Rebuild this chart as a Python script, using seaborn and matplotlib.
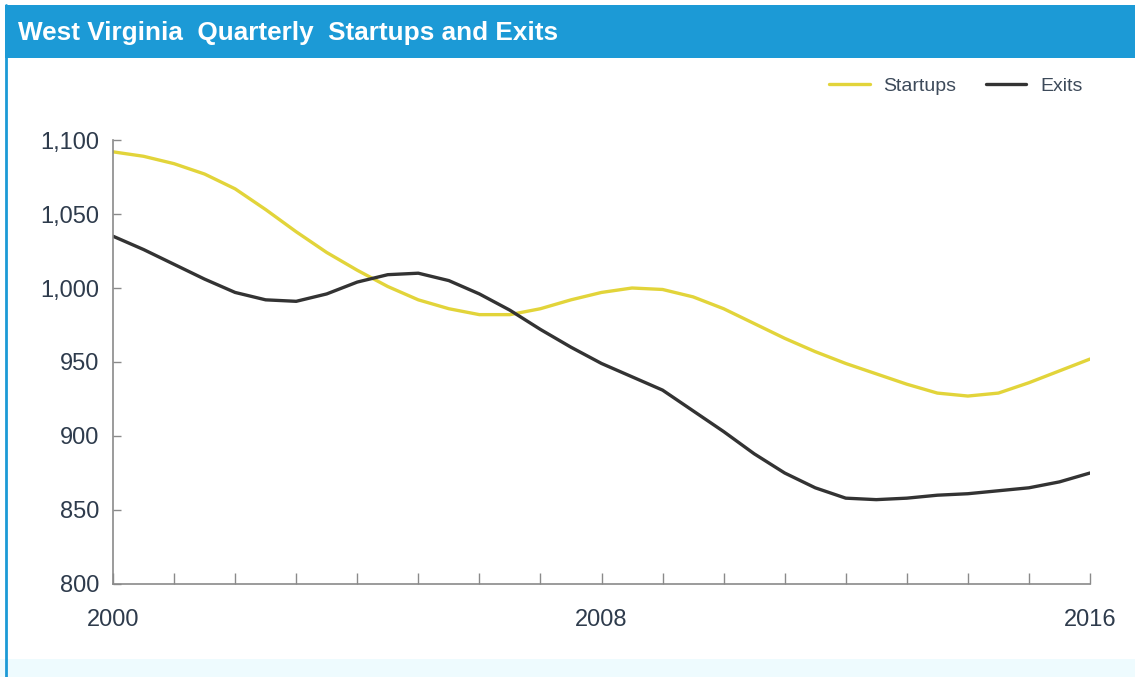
import matplotlib.pyplot as plt
import pandas as pd
import seaborn as sns
from matplotlib.lines import Line2D
from matplotlib.patches import Rectangle

# half-year points
years = [2000.0, 2000.5, 2001.0, 2001.5, 2002.0, 2002.5, 2003.0, 2003.5,
         2004.0, 2004.5, 2005.0, 2005.5, 2006.0, 2006.5, 2007.0, 2007.5,
         2008.0, 2008.5, 2009.0, 2009.5, 2010.0, 2010.5, 2011.0, 2011.5,
         2012.0, 2012.5, 2013.0, 2013.5, 2014.0, 2014.5, 2015.0, 2015.5,
         2016.0]
startups = [1092, 1089, 1084, 1077, 1067, 1053, 1038, 1024,
            1012, 1001, 992, 986, 982, 982, 986, 992,
            997, 1000, 999, 994, 986, 976, 966, 957,
            949, 942, 935, 929, 927, 929, 936, 944,
            952]
exits = [1035, 1026, 1016, 1006, 997, 992, 991, 996,
         1004, 1009, 1010, 1005, 996, 985, 972, 960,
         949, 940, 931, 917, 903, 888, 875, 865,
         858, 857, 858, 860, 861, 863, 865, 869,
         875]

series_names = ["Startups", "Exits"]
series_colors = ["#e2d43a", "#333333"]
x_labels = {2000: "2000", 2008: "2008", 2016: "2016"}
y_ticks = [800, 850, 900, 950, 1000, 1050, 1100]

df = pd.concat([
    pd.DataFrame({"year": years, "value": startups, "series": "Startups"}),
    pd.DataFrame({"year": years, "value": exits, "series": "Exits"}),
])

sns.set_style("white")
plt.rcParams["font.family"] = ["Liberation Sans", "DejaVu Sans"]

text_color = "#2e3b4c"
blue = "#1c9ad6"
fig = plt.figure(figsize=(11.35, 6.77), dpi=100)

# frame: pale bottom band, left border, title bar
fig.patches.append(Rectangle((0, 0), 1, 18 / 677, transform=fig.transFigure,
                             facecolor="#eefbfe", edgecolor="none"))
fig.lines.append(Line2D([6 / 1135, 6 / 1135], [0, 1 - 5 / 677],
                        transform=fig.transFigure, color=blue, linewidth=2))
fig.patches.append(Rectangle((5 / 1135, 1 - 58 / 677), 1, 53 / 677,
                             transform=fig.transFigure,
                             facecolor=blue, edgecolor="none"))
fig.text(18 / 1135, 1 - 33 / 677, "West Virginia  Quarterly  Startups and Exits",
         color="white", fontsize=18.8, fontweight="bold", va="center", ha="left")

ax = fig.add_axes([113 / 1135, 1 - 584 / 677, 977 / 1135, 444 / 677])
sns.lineplot(data=df, x="year", y="value", hue="series",
             palette=dict(zip(series_names, series_colors)),
             linewidth=2.4, ax=ax, legend=False)

ax.set_xlim(2000, 2016)
ax.set_ylim(800, 1100)
ax.set_xlabel("")
ax.set_ylabel("")

ax.set_yticks(y_ticks)
ax.set_yticklabels([f"{v:,}" for v in y_ticks])
ax.set_xticks(range(2000, 2017))
ax.set_xticklabels([x_labels.get(y, "") for y in range(2000, 2017)])

for side in ["top", "right"]:
    ax.spines[side].set_visible(False)
for side in ["left", "bottom"]:
    ax.spines[side].set_color("#8a8a8a")
    ax.spines[side].set_linewidth(1.2)

ax.tick_params(axis="y", direction="in", length=6, width=1, color="#8a8a8a",
               labelsize=17, labelcolor=text_color, pad=10, left=True)
ax.tick_params(axis="x", direction="in", length=8, width=1, color="#8a8a8a",
               labelsize=17, labelcolor=text_color, pad=18, bottom=True)

handles = [Line2D([], [], color=c, linewidth=2.4) for c in series_colors]
fig.legend(handles, series_names, loc="center right",
           bbox_to_anchor=(1096 / 1135, 1 - 86 / 677), ncol=2, frameon=False,
           fontsize=14, labelcolor="#3d4a5a", handlelength=2.1,
           columnspacing=1.5, handletextpad=0.7, borderpad=0.2)

fig.savefig("out.png", dpi=100, facecolor="white")
